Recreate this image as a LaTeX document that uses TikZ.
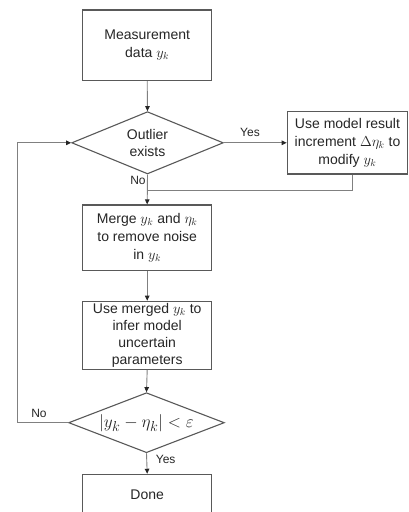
\documentclass[tikz,border=0pt]{standalone}
\usepackage{fontspec}
\setmainfont{Liberation Sans}
\usetikzlibrary{shapes.geometric,arrows.meta}
\begin{document}
\begin{tikzpicture}[x=1pt,y=-1pt,
  box/.style={draw=black!65, line width=1.1pt, minimum width=129pt, inner sep=2pt,
    align=center, font=\fontsize{14}{18}\selectfont, text=black!85},
  dec/.style={diamond, draw=black!65, line width=1.1pt, inner sep=0pt, aspect=2.5,
    align=center, font=\fontsize{14}{17}\selectfont, text=black!85},
  conn/.style={draw=black!50, line width=0.9pt},
  arr/.style={conn, -{Triangle[length=5pt,width=4.5pt,color=black!85]}},
  lbl/.style={font=\fontsize{12}{14}\selectfont, text=black!85, inner sep=1pt}]
\useasboundingbox (0,0) rectangle (409,512);
\clip (0,0) rectangle (409,512);
\fill[white] (0,0) rectangle (409,512);

\node[box, minimum height=70.7pt] (b1) at (147.2,45.3) {Measurement\\data $y_k$};
\node[dec, minimum width=151.6pt, minimum height=62.3pt] (d1) at (147.5,142.8) {Outlier\\exists};
\node[box, minimum width=120.5pt, minimum height=62.3pt, inner sep=1pt] (br) at (347.5,142.8) {Use model result\\increment $\Delta\eta_k$ to\\modify $y_k$};
\node[box, minimum height=65.7pt] (b2) at (147.2,237.8) {Merge $y_k$ and $\eta_k$\\to remove noise\\in $y_k$};
\node[box, minimum height=66pt, font=\fontsize{14}{17}\selectfont] (b3) at (147.2,335.3) {Use merged $y_k$ to\\infer model\\uncertain\\parameters};
\node[dec, minimum width=155.7pt, minimum height=60pt, font=\fontsize{19}{22}\selectfont] (d2) at (146.5,422.7) {\makebox[0pt]{$|y_k-\eta_k|<\varepsilon$}};
\node[box, minimum height=41.4pt] (b4) at (147.2,495) {Done};

\coordinate (jn) at (147.2,190.7);
\coordinate (brx) at (352,190.7);
\coordinate (lpa) at (17.3,422.7);
\coordinate (lpb) at (17.3,142.8);

\draw[arr] (b1.south) -- (d1.north);
\draw[arr] (d1.east) -- (br.west);
\draw[conn] (br.south -| brx) -- (brx) -- (jn);
\draw[arr] (d1.south) -- (b2.north);
\draw[arr] (b2.south) -- (b3.north);
\draw[arr] (b3.south) -- (d2.north);
\draw[arr] (d2.south) -- (b4.north);
\draw[arr] (d2.west) -- (lpa) -- (lpb) -- (d1.west);

\node[lbl] (yes1) at (250,132) {Yes};
\node[lbl] (no1) at (138,180) {No};
\node[lbl] (no2) at (39,413) {No};
\node[lbl] (yes2) at (165.7,459) {Yes};
\end{tikzpicture}
\end{document}
